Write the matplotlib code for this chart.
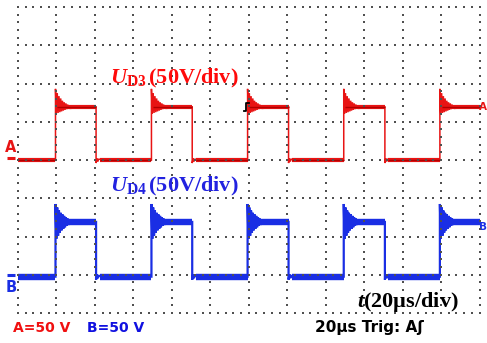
import numpy as np
import matplotlib.pyplot as plt
from matplotlib import transforms

plt.rcParams['mathtext.fontset'] = 'custom'
plt.rcParams['mathtext.rm'] = 'Liberation Serif:bold'
plt.rcParams['mathtext.it'] = 'Liberation Serif:italic:bold'
plt.rcParams['mathtext.bf'] = 'Liberation Serif:bold'

# switching instants in µs, shared by both diodes
rise_us = [19.5, 69.4, 119.4, 169.4, 219.4]
fall_us = [40.6, 90.6, 140.7, 190.8]
sweep_us = 240
us_per_div = 20
volts_per_div = 50
n_vdiv = 8
ring_step_us = 0.45

# channel A: U_D3
a_ground_div = 4.0
a_high_v = 69.5
a_ring_v = [23.5, -9, 18, -8, 14, -7, 11, -6, 8, -5, 6, -4, 4.5, -3, 3, -2.5, 2, -2]
a_dip_v = [-4, 2, -2, 1]

# channel B: U_D4
b_ground_div = 0.95
b_high_v = 71.5
b_ring_v = [23.5, -22, 19, -18, 15, -14, 12, -11, 10, -9, 8, -7, 6, -5,
            4.5, -4, 3.5, -3, 2.5, -2]
b_dip_v = [-4, 3, -2, 1]

# trigger marker position
trig_us = 118.4
trig_div = 5.38


def build_trace(high_v, ring_v, dip_v):
    t, v = [0.0], [0.0]
    for i, tr in enumerate(rise_us):
        t.append(tr)
        v.append(0.0)
        for k, r in enumerate(ring_v):
            t.append(tr + k * ring_step_us)
            v.append(high_v + r)
        if i < len(fall_us):
            tf = fall_us[i]
            t.append(tf)
            v.append(high_v)
            for k, d in enumerate(dip_v):
                t.append(tf + k * ring_step_us)
                v.append(d)
        else:
            t.append(sweep_us)
            v.append(high_v)
    return np.array(t), np.array(v)


def flats(high_v, ring_v, dip_v):
    # (level, start, stop) of the noisy flat parts
    segs = [(0.0, 0.0, rise_us[0])]
    for i, tr in enumerate(rise_us):
        stop = fall_us[i] if i < len(fall_us) else sweep_us
        segs.append((high_v, tr + 2 * ring_step_us, stop))
        if i < len(fall_us):
            nxt = rise_us[i + 1] if i + 1 < len(rise_us) else sweep_us
            segs.append((0.0, fall_us[i] + len(dip_v) * ring_step_us, nxt))
    return segs


fig = plt.figure(figsize=(4.87, 3.43), dpi=100)
fig.patch.set_facecolor('white')
W, H = 487, 343
ax = fig.add_axes([18 / W, 1 - 313 / H, 461.5 / W, 306 / H])
ax.set_xlim(0, sweep_us)
ax.set_ylim(0, n_vdiv)
ax.axis('off')

# dotted graticule
xs_major = np.arange(0, sweep_us + 0.1, us_per_div)
ys_major = np.arange(0, n_vdiv + 0.01, 1)
ys_minor = np.arange(0, n_vdiv + 0.01, 0.2)
xs_minor = np.arange(0, sweep_us + 0.1, us_per_div / 5)
gx = np.concatenate([np.repeat(xs_major, len(ys_minor)), np.tile(xs_minor, len(ys_major))])
gy = np.concatenate([np.tile(ys_minor, len(xs_major)), np.repeat(ys_major, len(xs_minor))])
ax.scatter(gx, gy, s=1.1, marker='s', color='#505050', linewidths=0, zorder=4, clip_on=False)

channels = [
    (a_ground_div, a_high_v, a_ring_v, a_dip_v, '#e81414', '#b00000', 3.0, 1.1),
    (b_ground_div, b_high_v, b_ring_v, b_dip_v, '#1a2ee4', '#1a2ee4', 4.6, 1.6),
]
for ground, high, ring, dip, col, core, band_lw, lw in channels:
    t, v = build_trace(high, ring, dip)
    ax.plot(t, ground + v / volts_per_div, color=col, lw=lw, zorder=2,
            solid_joinstyle='miter')
    for lvl, x0, x1 in flats(high, ring, dip):
        y = ground + lvl / volts_per_div
        ax.hlines(y, x0, x1, color=col, lw=band_lw, zorder=2)
        if core != col:
            ax.hlines(y, x0, x1, color=core, lw=1.0, zorder=3)

# trigger marker on channel A
ax.plot([trig_us - 1.0, trig_us, trig_us, trig_us + 1.7],
        [trig_div - 0.1, trig_div - 0.1, trig_div + 0.1, trig_div + 0.1],
        color='black', lw=1.3, zorder=5)

# channel ground / level markers
left = transforms.blended_transform_factory(fig.transFigure, ax.transData)
right = transforms.blended_transform_factory(ax.transAxes, ax.transData)
ax.plot([7 / W, 15 / W], [a_ground_div + 0.05] * 2, color='#e81414', lw=2.2,
        transform=left, clip_on=False, solid_capstyle='butt')
ax.text(11 / W, a_ground_div + 0.12, 'A', transform=left, color='#e81414',
        fontsize=10.5, fontweight='bold', ha='center', va='bottom')
ax.plot([7 / W, 15 / W], [b_ground_div + 0.04] * 2, color='#1a2ee4', lw=2.2,
        transform=left, clip_on=False, solid_capstyle='butt')
ax.text(11 / W, b_ground_div - 0.08, 'B', transform=left, color='#1a2ee4',
        fontsize=10.5, fontweight='bold', ha='center', va='top')
ax.text(0.999, a_ground_div + a_high_v / volts_per_div, 'A', transform=right,
        color='#e81414', fontsize=7.5, fontweight='bold',
        ha='left', va='center', clip_on=False)
ax.text(0.999, b_ground_div + 1.3, 'B', transform=right,
        color='#1a2ee4', fontsize=7.5, fontweight='bold',
        ha='left', va='center', clip_on=False)

# waveform labels
fig.text(110 / W, 1 - 83 / H, r'$U_{\mathrm{D3}}\,\mathrm{(50V/div)}$',
         color='#ff0a0a', fontsize=16, va='baseline')
fig.text(110 / W, 1 - 191 / H, r'$U_{\mathrm{D4}}\,\mathrm{(50V/div)}$',
         color='#2222e0', fontsize=16, va='baseline')
fig.text(357 / W, 1 - 307 / H, r'$t\mathrm{(20µs/div)}$',
         color='black', fontsize=16, va='baseline')

# scope status line
fig.text(13 / W, 1 - 332 / H, 'A=50 V', color='#f01010', fontsize=10,
         fontweight='bold', va='baseline')
fig.text(87 / W, 1 - 332 / H, 'B=50 V', color='#1010e0', fontsize=10,
         fontweight='bold', va='baseline')
fig.text(315 / W, 1 - 332 / H, '20µs Trig: Aʃ', color='black', fontsize=11,
         fontweight='bold', va='baseline')

fig.savefig('out.png', dpi=100, facecolor='white')
